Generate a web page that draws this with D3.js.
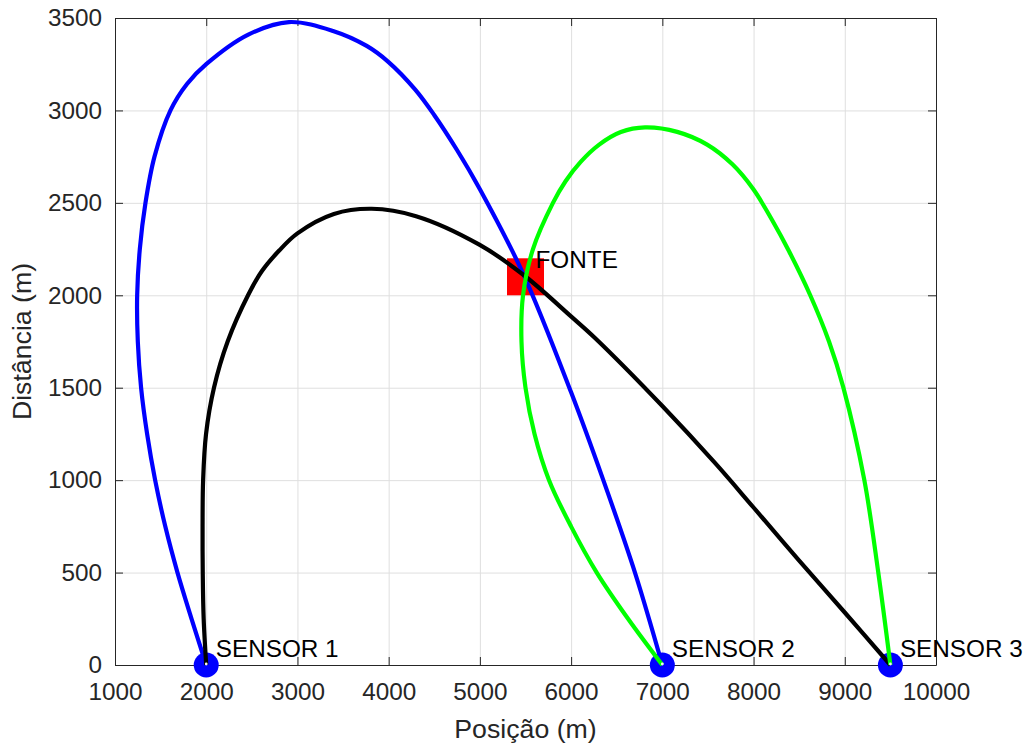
<!DOCTYPE html>
<html>
<head>
<meta charset="utf-8">
<script src="https://cdn.jsdelivr.net/npm/d3@7"></script>
<style>
  html, body { margin: 0; padding: 0; background: #fff; }
  svg { display: block; font-family: "Liberation Sans", Arial, Helvetica, sans-serif; }
</style>
</head>
<body>
<svg id="chart" width="1035" height="749"></svg>
<script>
// Tick values
const xTicks = [1000, 2000, 3000, 4000, 5000, 6000, 7000, 8000, 9000, 10000];
const yTicks = [0, 500, 1000, 1500, 2000, 2500, 3000, 3500];

// Sensor and source positions (m)
const sensorNames = ["SENSOR 1", "SENSOR 2", "SENSOR 3"];
const sensorX = [2000, 7000, 9500];
const sensorY = [0, 0, 0];
const sourceName = "FONTE";
const sourceX = 5500;
const sourceY = 2100;

// Curve between sensor 1 and sensor 2 (blue)
const curve12 = [
  [2000, 0], [1839, 250], [1685, 500], [1551, 750], [1440, 1000], [1352, 1250],
  [1286, 1500], [1250, 1750], [1243, 2000], [1272, 2250], [1334, 2500], [1433, 2750],
  [1608, 3000], [1789, 3143], [2000, 3250], [2461, 3410], [2907, 3478], [3390, 3430],
  [3759, 3349], [3996, 3263], [4289, 3114], [4497, 2977], [4749, 2786], [5000, 2574],
  [5476, 2115], [6000, 1475], [6353, 1000], [6700, 500], [7000, 0]
];

// Curve between sensor 1 and sensor 3 (black)
const curve13 = [
  [2000, 0], [1972, 250], [1962, 500], [1960, 750], [1966, 1000], [1998, 1250],
  [2085, 1500], [2235, 1750], [2461, 2003], [2609, 2130], [2800, 2242], [3000, 2335],
  [3400, 2440], [3814, 2468], [4300, 2428], [4994, 2274], [5476, 2111], [5999, 1886],
  [6262, 1769], [7000, 1401], [7577, 1093], [8000, 852], [8500, 565], [9000, 284],
  [9500, 0]
];

// Curve between sensor 2 and sensor 3 (green)
const curve23 = [
  [7000, 0], [6624, 250], [6281, 500], [5999, 750], [5758, 1000], [5599, 1250],
  [5500, 1500], [5456, 1750], [5473, 2000], [5582, 2250], [5801, 2500], [5939, 2617],
  [6107, 2723], [6308, 2815], [6545, 2883], [6810, 2908], [7163, 2884], [7491, 2815],
  [7771, 2707], [8000, 2572], [8203, 2407], [8389, 2238], [8619, 2003], [8827, 1750],
  [8984, 1502], [9214, 1001], [9367, 501], [9500, 0]
];

const curveColors = ["#0000ff", "#000000", "#00ff00"];

const svg = d3.select("#chart");
const plotLeft = 115, plotRight = 936, plotTop = 18, plotBottom = 665;

const x = d3.scaleLinear().domain([1000, 10000]).range([plotLeft, plotRight]);
const y = d3.scaleLinear().domain([0, 3500]).range([plotBottom, plotTop]);

svg.append("rect").attr("width", 1035).attr("height", 749).attr("fill", "#fff");

// Grid
const grid = svg.append("g");
grid.append("g")
  .attr("transform", `translate(0,${plotBottom})`)
  .call(d3.axisBottom(x).tickValues(xTicks).tickSize(-(plotBottom - plotTop)).tickFormat(""))
  .call(g => g.select(".domain").remove())
  .call(g => g.selectAll("line").attr("stroke", "#dfdfdf").attr("stroke-width", 1));
grid.append("g")
  .attr("transform", `translate(${plotLeft},0)`)
  .call(d3.axisLeft(y).tickValues(yTicks).tickSize(-(plotRight - plotLeft)).tickFormat(""))
  .call(g => g.select(".domain").remove())
  .call(g => g.selectAll("line").attr("stroke", "#dfdfdf").attr("stroke-width", 1));

// Axes box with inward ticks
const axisColor = "#262626";
const fontSize = 24.3;
const fmt = d3.format("d");
function styleAxis(g) {
  g.select(".domain").attr("stroke", axisColor).attr("stroke-width", 1);
  g.selectAll(".tick line").attr("stroke", axisColor).attr("stroke-width", 1);
  g.selectAll(".tick text").attr("fill", axisColor).attr("font-size", fontSize)
    .attr("font-family", "Liberation Sans, Arial, sans-serif");
}
svg.append("g")
  .attr("transform", `translate(0,${plotBottom})`)
  .call(d3.axisBottom(x).tickValues(xTicks).tickFormat(fmt).tickSizeInner(-8).tickSizeOuter(0).tickPadding(18))
  .call(styleAxis);
svg.append("g")
  .attr("transform", `translate(0,${plotTop})`)
  .call(d3.axisTop(x).tickValues(xTicks).tickSizeInner(-8).tickSizeOuter(0).tickFormat(""))
  .call(styleAxis);
svg.append("g")
  .attr("transform", `translate(${plotLeft},0)`)
  .call(d3.axisLeft(y).tickValues(yTicks).tickFormat(fmt).tickSizeInner(-8).tickSizeOuter(0).tickPadding(13))
  .call(styleAxis);
svg.append("g")
  .attr("transform", `translate(${plotRight},0)`)
  .call(d3.axisRight(y).tickValues(yTicks).tickSizeInner(-8).tickSizeOuter(0).tickFormat(""))
  .call(styleAxis);

// Axis titles
svg.append("text")
  .attr("x", (plotLeft + plotRight) / 2).attr("y", 738)
  .attr("text-anchor", "middle").attr("font-size", 26.7).attr("fill", axisColor)
  .text("Posição (m)");
svg.append("text")
  .attr("transform", `translate(31,${(plotTop + plotBottom) / 2}) rotate(-90)`)
  .attr("text-anchor", "middle").attr("font-size", 26.7).attr("fill", axisColor)
  .text("Distância (m)");

// Source marker (red square)
const sq = 37;
svg.append("rect")
  .attr("x", x(sourceX) - sq / 2).attr("y", y(sourceY) - sq / 2)
  .attr("width", sq).attr("height", sq).attr("fill", "#ff0000");

// Sensor markers
svg.append("g").selectAll("circle")
  .data(sensorX.map((d, i) => [d, sensorY[i]]))
  .join("circle")
  .attr("cx", d => x(d[0])).attr("cy", d => y(d[1]))
  .attr("r", 12.5).attr("fill", "#0000ff");

// Curves
const line = d3.line()
  .x(d => x(d[0])).y(d => y(d[1]))
  .curve(d3.curveCatmullRom.alpha(0.5));
[curve12, curve13, curve23].forEach((c, i) => {
  svg.append("path")
    .datum(c)
    .attr("d", line)
    .attr("fill", "none")
    .attr("stroke", curveColors[i])
    .attr("stroke-width", 4.2)
    .attr("stroke-linejoin", "round");
});

// Small centre dots on sensors
svg.append("g").selectAll("circle")
  .data(sensorX.map((d, i) => [d, sensorY[i]]))
  .join("circle")
  .attr("cx", d => x(d[0])).attr("cy", d => y(d[1]) - 1)
  .attr("r", 1.4).attr("fill", "#f4f4f4");

// Labels
svg.append("g").selectAll("text")
  .data(sensorNames)
  .join("text")
  .attr("x", (d, i) => x(sensorX[i]) + 9.5)
  .attr("y", (d, i) => y(sensorY[i]) - 8)
  .attr("font-size", fontSize).attr("fill", "#000")
  .text(d => d);
svg.append("text")
  .attr("x", x(sourceX) + 10).attr("y", y(sourceY) - 8.5)
  .attr("font-size", fontSize).attr("fill", "#000")
  .text(sourceName);
</script>
</body>
</html>
